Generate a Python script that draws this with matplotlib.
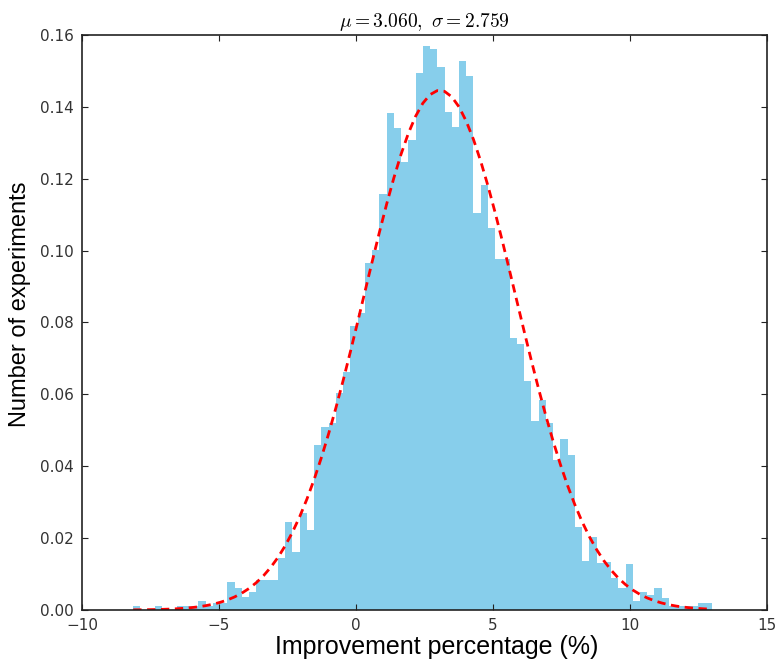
import numpy as np
import matplotlib
matplotlib.use("Agg")
import matplotlib.pyplot as plt

# fitted normal parameters
mu = 3.060
sigma = 2.759

# histogram range and normalised bin heights (80 bins)
x_min, x_max = -8.13, 13.01
heights = [
    0.0010, 0.0000, 0.0000, 0.0010, 0.0000, 0.0000, 0.0010, 0.0010, 0.0010, 0.0026,
    0.0010, 0.0020, 0.0020, 0.0077, 0.0060, 0.0035, 0.0051, 0.0084, 0.0084, 0.0084,
    0.0144, 0.0246, 0.0162, 0.0270, 0.0223, 0.0459, 0.0510, 0.0520, 0.0605, 0.0663,
    0.0790, 0.0826, 0.0966, 0.1002, 0.1157, 0.1384, 0.1342, 0.1247, 0.1308, 0.1495,
    0.1570, 0.1561, 0.1512, 0.1385, 0.1343, 0.1528, 0.1487, 0.1105, 0.1183, 0.1062,
    0.0976, 0.0976, 0.0756, 0.0740, 0.0637, 0.0527, 0.0584, 0.0520, 0.0417, 0.0475,
    0.0431, 0.0232, 0.0137, 0.0202, 0.0130, 0.0134, 0.0088, 0.0060, 0.0128, 0.0026,
    0.0049, 0.0042, 0.0060, 0.0033, 0.0010, 0.0010, 0.0010, 0.0010, 0.0019, 0.0019,
]

bins = np.linspace(x_min, x_max, len(heights) + 1)

plt.rcParams['mathtext.fontset'] = 'cm'
plt.rcParams['font.family'] = 'DejaVu Sans'

fig = plt.figure(figsize=(7.77, 6.6), dpi=100)
ax = fig.add_axes([0.1055, 0.0758, 0.8815, 0.8712])

ax.bar(bins[:-1], heights, width=np.diff(bins), align='edge',
       color='skyblue', linewidth=0)

# normal pdf evaluated at the bin edges
y = np.exp(-0.5 * ((bins - mu) / sigma) ** 2) / (sigma * np.sqrt(2 * np.pi))
ax.plot(bins, y, color='red', linestyle=(0, (3, 2)), linewidth=2)

ax.set_xlim(-10, 15)
ax.set_ylim(0, 0.16)
ax.set_xticks([-10, -5, 0, 5, 10, 15])
ax.set_yticks(np.arange(0, 0.161, 0.02))
ax.yaxis.set_major_formatter(matplotlib.ticker.FormatStrFormatter('%.2f'))
ax.tick_params(direction='in', top=True, right=True, length=4,
               labelsize=11, pad=6, colors='#222222', labelcolor='#333333')
for s in ax.spines.values():
    s.set_linewidth(1.2)
    s.set_color('#222222')

ax.set_xlabel('Improvement percentage (%)', fontsize=18, family='Liberation Sans')
ax.set_ylabel('Number of experiments', fontsize=17, family='Liberation Sans')
ax.xaxis.set_label_coords(0.5175, -0.043)
ax.yaxis.set_label_coords(-0.074, 0.531)
ax.set_title(r'$\mu=3.060,\ \sigma=2.759$', fontsize=14, pad=6)

fig.savefig('out.png', dpi=100, facecolor='white')
